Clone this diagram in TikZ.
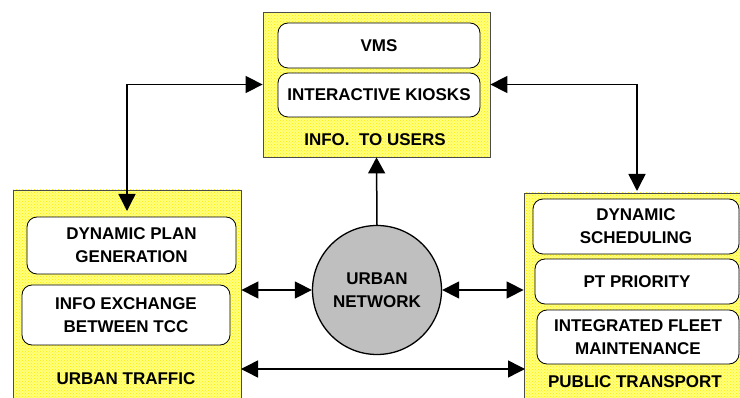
\documentclass[tikz,border=0pt]{standalone}
\usepackage{fontspec}
\setmainfont{Liberation Sans}
\usetikzlibrary{arrows.meta,patterns,calc}
\begin{document}
\begin{tikzpicture}[x=1pt,y=-1pt,
  grp/.style={draw=black!70, line width=0.8pt, rectangle, inner sep=0pt,
    preaction={fill={rgb,255:red,255;green,255;blue,125}},
    pattern=crosshatch dots, pattern color=yellow!85!orange},
  item/.style={draw=black, line width=0.8pt, fill=white, rounded corners=10pt, rectangle, inner sep=0pt,
    align=center, font=\fontsize{17}{23}\selectfont\bfseries},
  lbl/.style={font=\fontsize{17}{23}\selectfont\bfseries, inner sep=0pt},
  conn/.style={line width=1.5pt, draw=black},
  tip/.style={-{Triangle[length=16pt,width=17pt]}},
  dtip/.style={{Triangle[length=17pt,width=17pt]}-{Triangle[length=17pt,width=17pt]}}
]
\clip (0,0) rectangle (740,398);
% group boxes
\node[grp, minimum width=227pt, minimum height=145pt] (topbox) at (376.5,84.5) {};
\node[grp, minimum width=228pt, minimum height=215pt] (lbox) at (127,297.5) {};
\node[grp, minimum width=221pt, minimum height=212pt] (rbox) at (634.5,299) {};
% items top
\node[item, minimum width=202pt, minimum height=45pt] (vms) at (379,45.5) {VMS};
\node[item, minimum width=202pt, minimum height=44pt] (kiosk) at (379,95) {INTERACTIVE KIOSKS};
\node[lbl] (tusers) at (375,140) {INFO.\ \ TO USERS};
% items left
\node[item, minimum width=209pt, minimum height=57pt] (dpg) at (131.5,245.5) {DYNAMIC PLAN\\GENERATION};
\node[item, minimum width=208pt, minimum height=60pt] (iex) at (126,315) {INFO EXCHANGE\\BETWEEN TCC};
\node[lbl] (utraffic) at (126,379) {URBAN TRAFFIC};
% items right
\node[item, minimum width=206pt, minimum height=55pt] (dsch) at (636,226.5) {DYNAMIC\\SCHEDULING};
\node[item, minimum width=204pt, minimum height=45pt] (ptp) at (637,281.5) {PT PRIORITY};
\node[item, minimum width=202pt, minimum height=54pt] (ifm) at (638,337) {INTEGRATED FLEET\\MAINTENANCE};
\node[lbl] (ptrans) at (635,382) {PUBLIC TRANSPORT};
% circle
\node[circle, draw=black, line width=1.3pt, fill=black!25, minimum size=129pt, inner sep=0pt,
  align=center, font=\fontsize{17}{23}\selectfont\bfseries] (net) at (377,290) {URBAN\\NETWORK};
% connector coordinates
\coordinate (ltip) at (127,211);
\coordinate (rtip) at (637,191);
\coordinate (lbot) at (241,369);
\coordinate (rbot) at (525,369);
% connectors
\draw[conn, dtip] (topbox.west) -| (ltip);
\draw[conn, dtip] (topbox.east) -| (rtip);
\draw[conn, tip] (net.north) -- (topbox.south);
\draw[conn, dtip] (net.west -| lbox.east) -- (net.west);
\draw[conn, dtip] (net.east) -- (net.east -| rbox.west);
\draw[conn, dtip] (lbot) -- (rbot);
\end{tikzpicture}
\end{document}
